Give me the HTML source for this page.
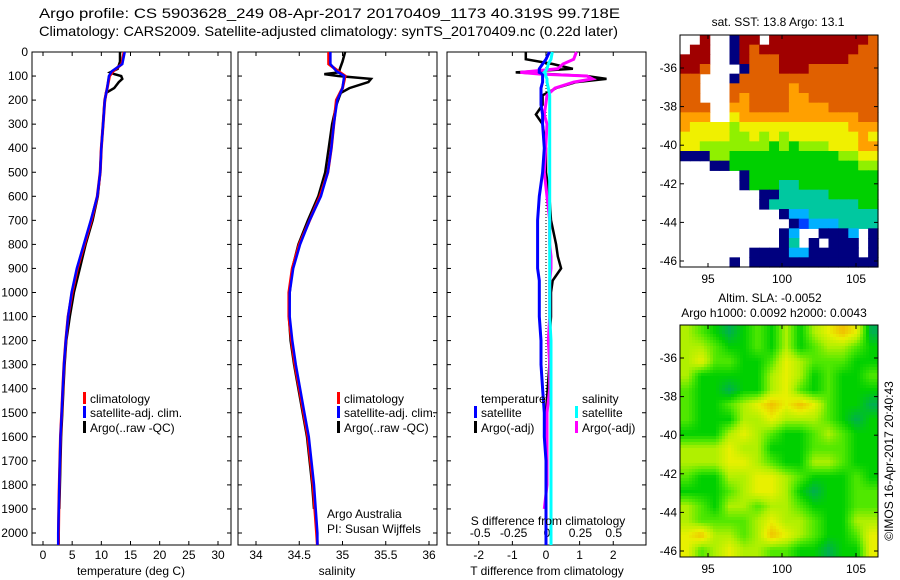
<!DOCTYPE html>
<html><head><meta charset="utf-8"><style>
html,body{margin:0;padding:0;background:#fff;}
svg{display:block;font-family:"Liberation Sans",sans-serif;}
</style></head><body>
<svg id="fig" width="900" height="580" viewBox="0 0 900 580" xmlns="http://www.w3.org/2000/svg">
<text x="39" y="18" font-size="14" textLength="581" lengthAdjust="spacingAndGlyphs">Argo profile: CS 5903628_249 08-Apr-2017 20170409_1173 40.319S 99.718E</text>
<text x="39" y="36" font-size="14" textLength="579" lengthAdjust="spacingAndGlyphs">Climatology: CARS2009. Satellite-adjusted climatology: synTS_20170409.nc (0.22d later)</text>
<g id="root"></g>
</svg>
<script>
// ---------- data ----------
const depthTicks = [0,100,200,300,400,500,600,700,800,900,1000,1100,1200,1300,1400,1500,1600,1700,1800,1900,2000];
const tempTicks = [0,5,10,15,20,25,30];
const salTicks = [34,34.5,35,35.5,36];
const salTickLabels = ["34","34.5","35","35.5","36"];
const tdiffTicks = [-2,-1,0,1,2];
const sdiffTicks = [-0.5,-0.25,0,0.25,0.5];
const sdiffTickLabels = ["-0.5","-0.25","0","0.25","0.5"];

const climDepth = [0,50,80,100,150,200,300,400,500,600,700,800,900,1000,1100,1200,1300,1400,1500,1600,1700,1800,1900,2000,2050];
const climTemp  = [13.9,13.5,12.0,11.4,11.0,10.6,10.3,10.0,9.8,9.3,8.3,7.1,5.9,5.0,4.3,3.9,3.6,3.4,3.2,3.0,2.9,2.8,2.7,2.65,2.65];
const satTemp   = [14.0,13.6,11.8,11.3,11.0,10.6,10.3,10.0,9.8,9.3,8.2,7.0,5.8,4.9,4.3,3.9,3.6,3.4,3.2,3.0,2.9,2.8,2.7,2.6,2.6];
const climSal   = [34.84,34.84,34.95,35.03,35.0,34.93,34.9,34.87,34.83,34.74,34.62,34.5,34.42,34.38,34.38,34.41,34.45,34.5,34.55,34.6,34.63,34.66,34.68,34.7,34.71];
const satSal    = [34.86,34.86,34.93,35.02,35.0,34.94,34.9,34.87,34.83,34.75,34.62,34.51,34.43,34.39,34.39,34.42,34.46,34.51,34.56,34.61,34.64,34.67,34.69,34.71,34.71];

const argoDepth = [0,40,70,85,92,100,112,125,150,170,190,220,300,400,500,600,700,800,900,1000,1100,1200,1300,1400,1500,1600,1700,1800,1900];
const argoTemp  = [13.2,13.2,12.8,11.5,12.2,13.4,13.6,13.0,12.2,10.8,10.7,10.5,10.3,10.0,9.8,9.4,8.5,7.3,6.3,5.3,4.6,4.0,3.7,3.5,3.3,3.1,3.0,2.9,2.8];
const argoSal   = [35.03,35.0,34.97,34.96,34.79,34.95,35.33,35.3,35.08,34.98,34.96,34.93,34.88,34.84,34.8,34.72,34.6,34.49,34.42,34.39,34.38,34.4,34.44,34.49,34.54,34.59,34.62,34.65,34.67];

const diffDepth = [0,30,50,70,85,92,100,112,125,150,180,220,260,300,400,500,600,700,800,850,900,950,1000,1100,1200,1300,1400,1500,1600,1700,1800,1900,2000,2050];
const satTdiff  = [0.1,0.0,-0.1,-0.2,-0.2,-0.1,-0.1,-0.1,-0.1,-0.15,-0.15,-0.15,-0.1,-0.1,-0.05,-0.1,-0.2,-0.25,-0.25,-0.25,-0.25,-0.2,-0.2,-0.2,-0.15,-0.15,-0.1,-0.05,-0.05,0.0,0.0,0.0,0.0,0.0];
const satSdiff  = [0.04,0.03,0.01,0.0,-0.02,-0.01,-0.01,0.0,0.0,0.01,0.02,0.02,0.02,0.02,0.02,0.02,0.02,0.02,0.02,0.02,0.02,0.02,0.02,0.02,0.03,0.03,0.03,0.03,0.03,0.03,0.03,0.03,0.03,0.03];
const argoTdiff = [-0.6,-0.6,0.2,0.8,-0.9,0.1,1.2,1.8,0.9,0.3,-0.1,-0.1,-0.3,-0.1,0.0,0.0,0.1,0.15,0.3,0.35,0.45,0.2,0.15,0.15,0.1,0.1,0.05,0.0,0.0,0.0,0.0,0.0,null,null];
const argoSdiff = [0.22,0.2,0.12,0.08,-0.2,-0.05,0.3,0.34,0.2,0.06,0.0,-0.01,-0.02,0.0,-0.01,-0.02,0.0,0.02,0.02,0.03,0.03,0.02,0.02,0.02,0.01,0.02,0.02,0.0,0.0,0.0,0.0,-0.02,null,null];

// SST map: index 0..9 (jet), '.' = no data
const sstRows = [
"..9..099.99999999998",
".99..098999999999988",
"999..098889999999888",
"998...08889998888888",
"88...088888888888888",
"88...888888788888888",
"88...878888778888888",
"888..778888777788888",
"777..677777777777788",
"76666566666666666777",
"66666556565666666676",
"66555555545455566677",
"00055444444444445566",
"...00444444444444455",
"......04444444444444",
"......04443344444444",
"........003333344444",
"........033333333344",
"..........0223333333",
"...........012223333",
"..........02..0002.0",
"..........03.0.000.0",
".......00002200000.0",
".....0.0000000000000"];
const sstColors = ["#00007f","#0040ff","#00b0ff","#00c8a0","#00d000","#90f000","#f0f000","#ffa000","#e06000","#a00000"];
// SLA map: index 0..5
const slaRows = [
"32101213134540",
"33211213123321",
"34221124322211",
"31111134312112",
"21101134212111",
"21123454542110",
"21113343332101",
"11134321123211",
"33343311122211",
"33344321133211",
"21133443211121",
"11123443101122",
"32133233211122",
"32222343321133",
"45332354321124",
"42343322110114"];
const slaColors = ["#00b050","#00d000","#50e800","#b0f000","#e8f000","#f0c000"];
const latTicks = [-36,-38,-40,-42,-44,-46];
const lonTicks = [95,100,105];

// ---------- helpers ----------
const NS="http://www.w3.org/2000/svg";
const root=document.getElementById('root');
function mk(tag,attrs,parent){const e=document.createElementNS(NS,tag);for(const k in attrs)e.setAttribute(k,attrs[k]);(parent||root).appendChild(e);return e;}
function txt(x,y,s,anchor,size,parent){const t=mk('text',{x:x,y:y,'font-size':size||12,'text-anchor':anchor||'start'},parent);t.textContent=s;return t;}

const Y0=52, YB=545, PPM=(533-52)/2000;
const yD=d=>Y0+d*PPM;

const panels=[
 {x0:32,x1:231,name:'temperature-panel'},
 {x0:238,x1:437,name:'salinity-panel'},
 {x0:447,x1:646,name:'difference-panel'}];
const xT=v=>43+v*(218-43)/30;
const xS=v=>256+(v-34)*(429-256)/2;
const xTd=v=>546+v*(613-478.5)/4;
const xSd=v=>547+v*(614-480.5);

function drawLine(depths,vals,xf,color,w,name,parent){
  let pts=[];
  for(let i=0;i<depths.length;i++){ if(vals[i]===null||vals[i]===undefined) continue; pts.push(xf(vals[i]).toFixed(1)+','+yD(depths[i]).toFixed(1)); }
  const p=mk('polyline',{points:pts.join(' '),fill:'none',stroke:color,'stroke-width':w,'stroke-linejoin':'miter'},parent);
  
  
  return p;
}

panels.forEach((P,pi)=>{
  const g=mk('g',{});
  
  
  P.g=g;
  const r=mk('rect',{x:P.x0,y:Y0,width:P.x1-P.x0,height:YB-Y0,fill:'none',stroke:'#000','stroke-width':1},g);
  
  
  depthTicks.forEach(d=>{
    const y=yD(d);
    mk('line',{x1:P.x0,y1:y,x2:P.x0+4,y2:y,stroke:'#000'},g);
    mk('line',{x1:P.x1-4,y1:y,x2:P.x1,y2:y,stroke:'#000'},g);
    if(pi===0){const t=txt(28,y+4,String(d),'end',12,g);
      
      }
  });
});

tempTicks.forEach(v=>{const x=xT(v);const g=panels[0].g;
  mk('line',{x1:x,y1:Y0,x2:x,y2:Y0+4,stroke:'#000'},g);mk('line',{x1:x,y1:YB-4,x2:x,y2:YB,stroke:'#000'},g);
  const t=txt(x,559,String(v),'middle',12,g);
  
  });
salTicks.forEach((v,i)=>{const x=xS(v);const g=panels[1].g;
  mk('line',{x1:x,y1:Y0,x2:x,y2:Y0+4,stroke:'#000'},g);mk('line',{x1:x,y1:YB-4,x2:x,y2:YB,stroke:'#000'},g);
  const t=txt(x,559,salTickLabels[i],'middle',12,g);
  
  });
tdiffTicks.forEach(v=>{const x=xTd(v);const g=panels[2].g;
  mk('line',{x1:x,y1:Y0,x2:x,y2:Y0+4,stroke:'#000'},g);mk('line',{x1:x,y1:YB-4,x2:x,y2:YB,stroke:'#000'},g);
  const t=txt(x,559,String(v),'middle',12,g);
  
  });
sdiffTicks.forEach((v,i)=>{const x=xSd(v);const g=panels[2].g;
  const t=txt(x,537,sdiffTickLabels[i],'middle',12,g);
  
  });

[[131,'temperature (deg C)','temperature-axis-title'],[337,'salinity','salinity-axis-title'],[547,'T difference from climatology','t-diff-axis-title']].forEach(a=>{
  const t=txt(a[0],575,a[1],'middle',12);
  
  });
{const t=txt(548,525,'S difference from climatology','middle',12);
 
 }
{const t=txt(327,518,'Argo Australia','start',12);
 
 
 const t2=txt(327,533,'PI: Susan Wijffels','start',12);
 
 }

drawLine(argoDepth,argoTemp,xT,'#000',2.5,'argo-temperature-line',panels[0].g);
drawLine(climDepth,climTemp,xT,'#f00',3,'climatology-temperature-line',panels[0].g);
drawLine(climDepth,satTemp,xT,'#00f',2.5,'satellite-temperature-line',panels[0].g);
drawLine(argoDepth,argoSal,xS,'#000',2.5,'argo-salinity-line',panels[1].g);
drawLine(climDepth,climSal,xS,'#f00',3,'climatology-salinity-line',panels[1].g);
drawLine(climDepth,satSal,xS,'#00f',2.5,'satellite-salinity-line',panels[1].g);
{const z=mk('line',{x1:xTd(0),y1:Y0,x2:xTd(0),y2:YB,stroke:'#000','stroke-dasharray':'1,2'},panels[2].g);
 
 }
drawLine(diffDepth,argoTdiff,xTd,'#000',2.5,'argo-t-diff-line',panels[2].g);
drawLine(diffDepth,argoSdiff,xSd,'#f0f',3,'argo-s-diff-line',panels[2].g);
drawLine(diffDepth,satTdiff,xTd,'#00f',3,'satellite-t-diff-line',panels[2].g);
drawLine(diffDepth,satSdiff,xSd,'#0ff',3,'satellite-s-diff-line',panels[2].g);

function legend(x,y,color,label,name){
  const g=mk('g',{});
  
  
  if(color) mk('rect',{x:x,y:y-9,width:3,height:12,fill:color},g);
  txt(x+7,y+2,label,'start',12,g);
}
legend(83,401,'#f00','climatology','legend-climatology-t');
legend(83,415,'#00f','satellite-adj. clim.','legend-satellite-t');
legend(83,430,'#000','Argo(..raw -QC)','legend-argo-t');
legend(337,401,'#f00','climatology','legend-climatology-s');
legend(337,415,'#00f','satellite-adj. clim.','legend-satellite-s');
legend(337,430,'#000','Argo(..raw -QC)','legend-argo-s');
legend(474,401,null,'temperature','legend-temperature-header');
legend(474,415,'#00f','satellite','legend-t-satellite');
legend(474,430,'#000','Argo(-adj)','legend-t-argo');
legend(575,401,null,'salinity','legend-salinity-header');
legend(575,415,'#0ff','satellite','legend-s-satellite');
legend(575,430,'#f0f','Argo(-adj)','legend-s-argo');

function hex2rgb(h){return [parseInt(h.substr(1,2),16),parseInt(h.substr(3,2),16),parseInt(h.substr(5,2),16)];}
function contColor(colors,v){
  const i=Math.max(0,Math.min(colors.length-1.001,v)),i0=Math.floor(i),f=i-i0;
  const a=hex2rgb(colors[i0]),b=hex2rgb(colors[i0+1]);
  return 'rgb('+a.map((c,k)=>Math.round(c+(b[k]-c)*f)).join(',')+')';
}
function axesFor(g,X0,X1,Yt,Yb,yLat36,yLat46){
  mk('rect',{x:X0,y:Yt,width:X1-X0,height:Yb-Yt,fill:'none',stroke:'#000'},g);
  const yl=v=>yLat36+(v+36)/(-10)*(yLat46-yLat36);
  latTicks.forEach(v=>{const y=yl(v);
    mk('line',{x1:X0,y1:y,x2:X0+4,y2:y,stroke:'#000'},g);mk('line',{x1:X1-4,y1:y,x2:X1,y2:y,stroke:'#000'},g);
    const t=txt(X0-3,y+4,String(v),'end',12,g);
    
    });
  const xl=v=>708+(v-95)*(856-708)/10;
  lonTicks.forEach(v=>{const x=xl(v);
    mk('line',{x1:x,y1:Yt,x2:x,y2:Yt+4,stroke:'#000'},g);mk('line',{x1:x,y1:Yb-4,x2:x,y2:Yb,stroke:'#000'},g);
    const t=txt(x,Yb+16,String(v),'middle',12,g);
    
    });
}
function drawMap(rows,colors,X0,X1,Yt,Yb,yLat36,yLat46,name){
  const g=mk('g',{});
  
  
  const nr=rows.length,nc=rows[0].length,cw=(X1-X0)/nc,ch=(Yb-Yt)/nr;
  rows.forEach((row,ri)=>{for(let ci=0;ci<nc;ci++){const c=row[ci];if(c==='.')continue;
    const cell=mk('rect',{x:(X0+ci*cw).toFixed(2),y:(Yt+ri*ch).toFixed(2),width:(cw+0.6).toFixed(2),height:(ch+0.6).toFixed(2),fill:colors[+c]},g);
    
    }});
  axesFor(g,X0,X1,Yt,Yb,yLat36,yLat46);
}
function drawSmoothMap(rows,colors,X0,X1,Yt,Yb,yLat36,yLat46,name){
  const g=mk('g',{});
  
  
  const nr=rows.length,nc=rows[0].length,step=3;
  const val=(r,c)=>+rows[Math.max(0,Math.min(nr-1,r))][Math.max(0,Math.min(nc-1,c))];
  for(let y=Yt;y<Yb;y+=step){for(let x=X0;x<X1;x+=step){
    const gc=(x+step/2-X0)/(X1-X0)*nc-0.5, gr=(y+step/2-Yt)/(Yb-Yt)*nr-0.5;
    const c0=Math.floor(gc),r0=Math.floor(gr),fc=gc-c0,fr=gr-r0;
    const v=val(r0,c0)*(1-fc)*(1-fr)+val(r0,c0+1)*fc*(1-fr)+val(r0+1,c0)*(1-fc)*fr+val(r0+1,c0+1)*fc*fr;
    const cell=mk('rect',{x:x,y:y,width:Math.min(step,X1-x)+0.3,height:Math.min(step,Yb-y)+0.3,fill:contColor(colors,v)},g);
    
    
  }}
  axesFor(g,X0,X1,Yt,Yb,yLat36,yLat46);
}
drawMap(sstRows,sstColors,680,878,35,267,68,261,'sst-map');
drawSmoothMap(slaRows,slaColors,680,878,325,557,358,551,'sla-map');
{const t=txt(778,26,'sat. SST: 13.8 Argo: 13.1','middle',12);
 
 
 const t2=txt(770,302,'Altim. SLA: -0.0052','middle',12);
 
 
 const t3=txt(774,317,'Argo h1000: 0.0092 h2000: 0.0043','middle',12);
 
 
 const t4=mk('text',{x:0,y:0,'font-size':12,'text-anchor':'middle',transform:'translate(893,461) rotate(-90)'});
 t4.textContent='\u00A9IMOS 16-Apr-2017 20:40:43';
 
 }
</script>
</body></html>
